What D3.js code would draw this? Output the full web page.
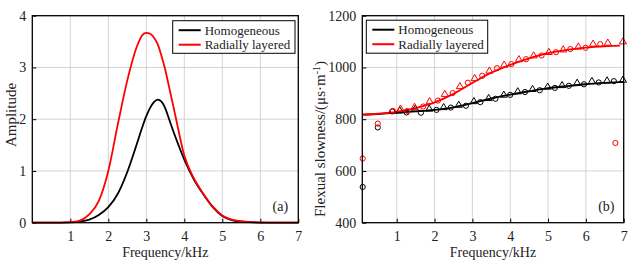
<!DOCTYPE html>
<html>
<head>
<meta charset="utf-8">
<script src="https://cdn.jsdelivr.net/npm/d3@7"></script>
<style>
body { margin: 0; background: #fff; }
svg text { font-family: "Liberation Serif", "DejaVu Serif", serif; fill: #222; }
</style>
</head>
<body>
<div id="plot"></div>
<script>
// (a) amplitude spectra
let ampFreq = [0, 0.5, 1.0, 1.25, 1.5, 1.75, 2.0, 2.25, 2.5, 2.75, 2.9, 3.0, 3.1, 3.2, 3.3, 3.4, 3.5, 3.6, 3.75, 4.0, 4.25, 4.5, 4.75, 5.0, 5.25, 5.5, 6.0, 6.5, 7.0];
let ampHomo = [0, 0, 0.005, 0.02, 0.06, 0.15, 0.3, 0.56, 0.98, 1.52, 1.86, 2.06, 2.22, 2.33, 2.38, 2.34, 2.21, 2.0, 1.69, 1.22, 0.84, 0.55, 0.3, 0.13, 0.05, 0.02, 0.003, 0, 0];
let ampLayer = [0, 0, 0.01, 0.04, 0.16, 0.42, 1.0, 1.9, 2.75, 3.4, 3.63, 3.67, 3.65, 3.58, 3.45, 3.22, 2.95, 2.62, 2.12, 1.3, 0.86, 0.56, 0.31, 0.14, 0.06, 0.03, 0.005, 0, 0];

// (b) flexural slowness dispersion
let lineFreqHomo = [0.1, 0.5, 1, 1.5, 2, 2.5, 3, 3.5, 4, 4.5, 5, 5.5, 6, 6.5, 7];
let lineHomo = [818, 820, 825, 830, 836, 846, 862, 880, 895, 908, 920, 928, 935, 940, 944];
let lineFreqLayer = [0.1, 0.5, 1, 1.5, 2, 2.5, 3, 3.5, 4, 4.5, 5, 5.5, 6, 6.5, 6.9];
let lineLayer = [818, 821, 828, 843, 865, 898, 940, 980, 1010, 1035, 1055, 1068, 1077, 1082, 1084];

let homoCircF = [0.1, 0.5, 0.88, 1.26, 1.64, 2.05, 2.43, 2.83, 3.21, 3.61, 4.0, 4.39, 4.78, 5.18, 5.55, 5.95, 6.34, 6.74];
let homoCircS = [538, 768, 830, 826, 825, 836, 845, 852, 866, 879, 894, 905, 912, 921, 929, 935, 942, 947];
let homoTriF = [1.08, 1.49, 1.86, 2.24, 2.64, 3.04, 3.43, 3.83, 4.2, 4.59, 4.99, 5.37, 5.77, 6.16, 6.56, 6.98];
let homoTriS = [832, 839, 839, 845, 854, 868, 880, 893, 906, 915, 924, 930, 939, 946, 948, 951];

let layerCircF = [0.1, 0.5, 0.9, 1.28, 1.7, 2.09, 2.48, 2.88, 3.26, 3.65, 4.03, 4.42, 4.83, 5.21, 5.59, 5.99, 6.38, 6.78];
let layerCircS = [648, 783, 832, 832, 849, 872, 901, 941, 968, 997, 1013, 1032, 1046, 1059, 1071, 1076, 1090, 708];
let layerTriF = [1.1, 1.47, 1.87, 2.27, 2.67, 3.06, 3.45, 3.84, 4.23, 4.62, 5.02, 5.4, 5.8, 6.19, 6.58, 6.98];
let layerTriS = [839, 846, 868, 896, 926, 957, 986, 1009, 1030, 1045, 1058, 1068, 1079, 1090, 1094, 1099];

let seriesNames = ['Homogeneous', 'Radially layered'];
let seriesColors = ['#000000', '#ff0000'];

let serif = '"Liberation Serif", "DejaVu Serif", serif';
let svgWidth = 644;
let svgHeight = 264;

let svg = d3.select('#plot')
    .append('svg')
    .attr('width', svgWidth)
    .attr('height', svgHeight)
    .attr('font-family', serif);

function label(g, txt, size) {
    return g.append('text').style('font-family', serif).style('font-size', size + 'px').text(txt);
}

function drawFrame(g, x, y, xTicks, yTicks, w, h) {
    // grid
    g.append('g').selectAll('line').data(xTicks.filter(t => x(t) > 1 && x(t) < w - 1)).join('line')
        .attr('x1', d => x(d)).attr('x2', d => x(d)).attr('y1', 0).attr('y2', h)
        .attr('stroke', '#c8c8c8').attr('stroke-width', 0.8);
    g.append('g').selectAll('line').data(yTicks.filter(t => y(t) > 1 && y(t) < h - 1)).join('line')
        .attr('y1', d => y(d)).attr('y2', d => y(d)).attr('x1', 0).attr('x2', w)
        .attr('stroke', '#c8c8c8').attr('stroke-width', 0.8);

    let xAxis = d3.axisBottom(x).tickValues(xTicks).tickSize(-4).tickPadding(8).tickFormat(d3.format('d'));
    let yAxis = d3.axisLeft(y).tickValues(yTicks).tickSize(-4).tickPadding(6).tickFormat(d3.format('d'));
    let gx = g.append('g').attr('transform', `translate(0,${h})`).call(xAxis);
    let gy = g.append('g').call(yAxis);
    [gx, gy].forEach(a => {
        a.attr('font-family', serif).attr('font-size', 14);
        a.select('.domain').remove();
        a.selectAll('line').attr('stroke', '#000');
        a.selectAll('text').style('font-size', '14px').style('font-family', serif).attr('fill', '#222');
    });
}

function drawBox(g, w, h) {
    g.append('rect').attr('x', 0).attr('y', 0).attr('width', w).attr('height', h)
        .attr('fill', 'none').attr('stroke', '#000').attr('stroke-width', 1.3);
}

function drawLegend(g, lx, ly, bw, bh) {
    g.append('rect').attr('x', lx).attr('y', ly).attr('width', bw).attr('height', bh)
        .attr('fill', '#fff').attr('stroke', '#000').attr('stroke-width', 1);
    seriesNames.forEach((name, i) => {
        let yy = ly + 9.5 + i * 14.5;
        g.append('line').attr('x1', lx + 6).attr('x2', lx + 28).attr('y1', yy).attr('y2', yy)
            .attr('stroke', seriesColors[i]).attr('stroke-width', 2);
        label(g, name, 13).attr('x', lx + 32).attr('y', yy + 4.5);
    });
}

// ---- panel (a)
let ax0 = 32.3, ay0 = 15.7, aw = 266, ah = 207;
let chartA = svg.append('g').attr('transform', `translate(${ax0},${ay0})`);
let xA = d3.scaleLinear().domain([0, 7]).range([0, aw]);
let yA = d3.scaleLinear().domain([0, 4]).range([ah, 0]);
drawFrame(chartA, xA, yA, [1, 2, 3, 4, 5, 6, 7], [0, 1, 2, 3, 4], aw, ah);

let lineA = d3.line().x(d => xA(d[0])).y(d => yA(d[1])).curve(d3.curveMonotoneX);
chartA.append('path').datum(d3.zip(ampFreq, ampHomo)).attr('d', lineA)
    .attr('fill', 'none').attr('stroke', seriesColors[0]).attr('stroke-width', 1.8);
chartA.append('path').datum(d3.zip(ampFreq, ampLayer)).attr('d', lineA)
    .attr('fill', 'none').attr('stroke', seriesColors[1]).attr('stroke-width', 1.8);
drawBox(chartA, aw, ah);
drawLegend(chartA, 140.4, 5, 122.3, 32.6);
label(chartA, '(a)', 14).attr('x', 248).attr('y', 195).attr('text-anchor', 'middle');
label(chartA, 'Frequency/kHz', 14).attr('x', aw / 2).attr('y', ah + 34).attr('text-anchor', 'middle');
label(svg, 'Amplitude', 15).attr('transform', 'translate(16,115) rotate(-90)').attr('text-anchor', 'middle');

// ---- panel (b)
let bx0 = 362.3, by0 = 15.7, bw = 261.4, bh = 207;
let chartB = svg.append('g').attr('transform', `translate(${bx0},${by0})`);
let xB = d3.scaleLinear().domain([0.09, 7]).range([0, bw]);
let yB = d3.scaleLinear().domain([400, 1200]).range([bh, 0]);
drawFrame(chartB, xB, yB, [1, 2, 3, 4, 5, 6, 7], [400, 600, 800, 1000, 1200], bw, bh);

let lineB = d3.line().x(d => xB(d[0])).y(d => yB(d[1])).curve(d3.curveMonotoneX);
chartB.append('path').datum(d3.zip(lineFreqHomo, lineHomo)).attr('d', lineB)
    .attr('fill', 'none').attr('stroke', seriesColors[0]).attr('stroke-width', 1.8);
chartB.append('path').datum(d3.zip(lineFreqLayer, lineLayer)).attr('d', lineB)
    .attr('fill', 'none').attr('stroke', seriesColors[1]).attr('stroke-width', 1.8);

let tri = d3.symbol().type(d3.symbolTriangle).size(22);
function circles(f, s, color) {
    chartB.append('g').selectAll('circle').data(d3.zip(f, s)).join('circle')
        .attr('cx', d => xB(d[0])).attr('cy', d => yB(d[1])).attr('r', 2.6)
        .attr('fill', 'none').attr('stroke', color).attr('stroke-width', 1);
}
function triangles(f, s, color) {
    chartB.append('g').selectAll('path').data(d3.zip(f, s)).join('path')
        .attr('transform', d => `translate(${xB(d[0])},${yB(d[1])})`).attr('d', tri)
        .attr('fill', 'none').attr('stroke', color).attr('stroke-width', 1);
}
circles(homoCircF, homoCircS, seriesColors[0]);
triangles(homoTriF, homoTriS, seriesColors[0]);
circles(layerCircF, layerCircS, seriesColors[1]);
triangles(layerTriF, layerTriS, seriesColors[1]);

drawBox(chartB, bw, bh);
drawLegend(chartB, 4, 4.5, 121.4, 33);
label(chartB, '(b)', 14).attr('x', 244).attr('y', 195).attr('text-anchor', 'middle');
label(chartB, 'Frequency/kHz', 14).attr('x', bw / 2).attr('y', bh + 34).attr('text-anchor', 'middle');
let yl = label(svg, null, 15).attr('transform', 'translate(325,139) rotate(-90)').attr('text-anchor', 'middle');
yl.append('tspan').text('Flexual slowness/(μs·m');
yl.append('tspan').attr('dy', -5).style('font-size', '10px').text('-1');
yl.append('tspan').attr('dy', 5).text(')');
</script>
</body>
</html>
